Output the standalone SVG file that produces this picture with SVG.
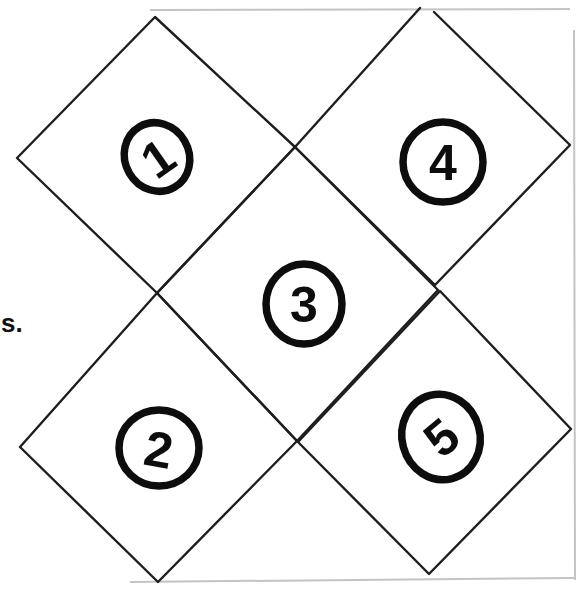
<svg xmlns="http://www.w3.org/2000/svg" width="582" height="589" viewBox="0 0 582 589">
<style>
.edge{fill:none;stroke:#1e1e1e;stroke-width:2.4;stroke-linejoin:round;stroke-linecap:round}
.frame{fill:none;stroke:#c4c4c8;stroke-width:2}
.badge{fill:none;stroke:#0d0d0d;stroke-width:7.5}
.num{font-family:"Liberation Sans",Arial,sans-serif;font-weight:bold;font-size:50px;fill:#0d0d0d;text-anchor:middle;dominant-baseline:central}
.side{font-family:"Liberation Sans",Arial,sans-serif;font-weight:bold;font-size:26px;fill:#111}
</style>
<rect width="582" height="589" fill="#ffffff"/>
<g id="frame">
<path class="frame" d="M150 10 L570 9"/>
<path class="frame" d="M574 30 L575 580"/>
<path class="frame" d="M130 582 L575 578"/>
</g>
<text class="side" x="1" y="332">s.</text>
<g id="node1">
<path class="edge" d="M155 17 L295 147 L157 293 L17 158 Z"/>
<ellipse class="badge" cx="157" cy="157" rx="32" ry="35" transform="rotate(-30 157 157)"/>
<text class="num" x="157" y="159" transform="rotate(-35 157 157)">1</text>
</g>
<g id="node4">
<path class="edge" d="M420 8 L295 147 M434 12 L570 145 L435 285 L295 147"/>
<ellipse class="badge" cx="443" cy="162" rx="40" ry="40"/>
<text class="num" x="443" y="163">4</text>
</g>
<g id="node3">
<path class="edge" d="M295 147 L438 290 L297 441 L157 293 Z"/>
<ellipse class="badge" cx="304" cy="304" rx="38" ry="40"/>
<text class="num" x="304" y="305">3</text>
</g>
<g id="node2">
<path class="edge" d="M157 293 L297 441 L158 582 L20 447 Z"/>
<ellipse class="badge" cx="159" cy="448" rx="40" ry="38"/>
<text class="num" x="159" y="450" transform="rotate(10 159 448)">2</text>
</g>
<g id="node5">
<path class="edge" d="M440 291 L571 429 L429 574 L298 442 Z"/>
<ellipse class="badge" cx="441" cy="437" rx="39" ry="43" transform="rotate(-15 441 437)"/>
<text class="num" x="441" y="438" transform="rotate(-40 441 437)">5</text>
</g>
</svg>
